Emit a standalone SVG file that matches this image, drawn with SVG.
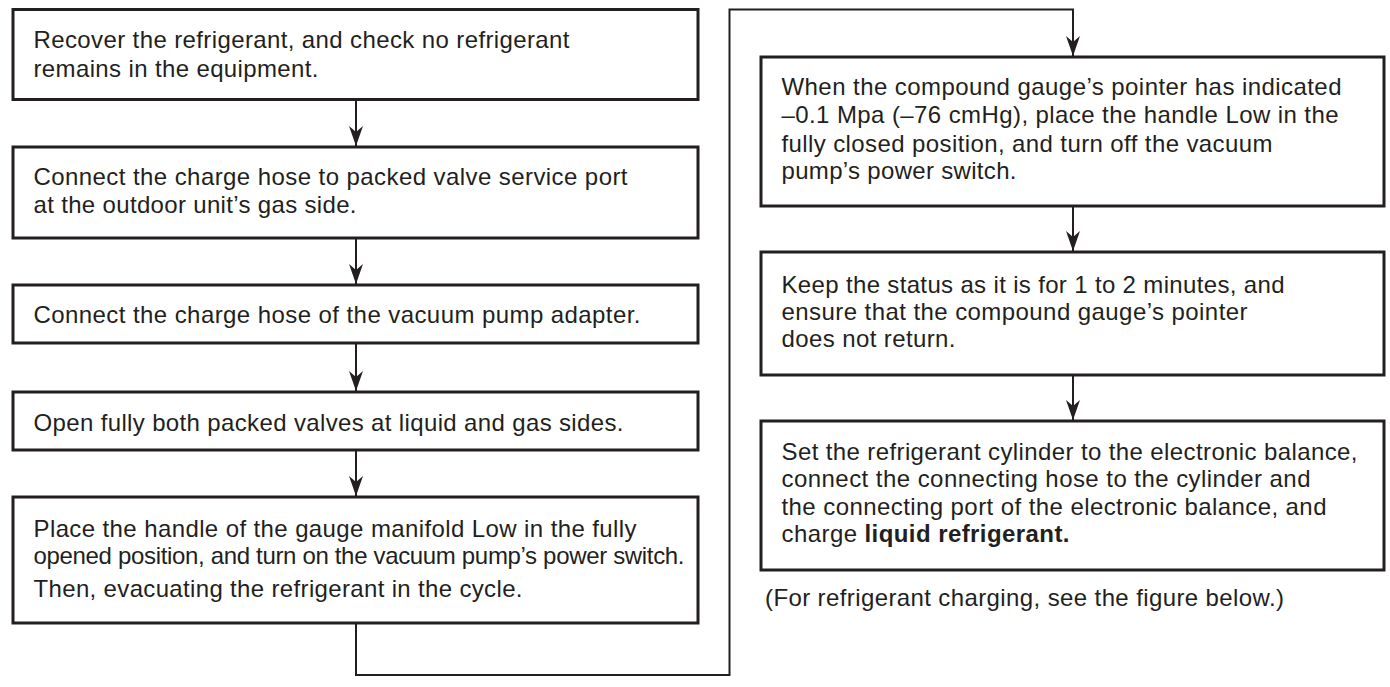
<svg xmlns="http://www.w3.org/2000/svg" width="1390" height="687" viewBox="0 0 1390 687">
<style>
.box{fill:#fff;stroke:#231f20;stroke-width:3}
.t{font-family:"Liberation Sans",Arial,sans-serif;font-size:24px;fill:#231f20}
.b{font-weight:bold}
.c{fill:none;stroke:#231f20;stroke-width:2}
</style>
<defs>
<marker id="ah" markerUnits="userSpaceOnUse" viewBox="-21 -8 22 16" refX="0" refY="0" markerWidth="22" markerHeight="16" orient="auto" overflow="visible">
<path d="M0,0 L-20,-7 L-14,0 L-20,7 Z" fill="#231f20"/>
</marker>
</defs>
<rect width="1390" height="687" fill="#fff"/>
<g id="connectors">
<line class="c" x1="356" y1="99" x2="356" y2="146" marker-end="url(#ah)"/>
<line class="c" x1="356" y1="238" x2="356" y2="284" marker-end="url(#ah)"/>
<line class="c" x1="356" y1="343" x2="356" y2="391" marker-end="url(#ah)"/>
<line class="c" x1="356" y1="450" x2="356" y2="496" marker-end="url(#ah)"/>
<path class="c" d="M356,623 V675 H729.5 V9.5 H1073 V56" marker-end="url(#ah)"/>
<line class="c" x1="1073" y1="206" x2="1073" y2="251" marker-end="url(#ah)"/>
<line class="c" x1="1073" y1="375" x2="1073" y2="420" marker-end="url(#ah)"/>
</g>
<g id="n1">
<rect class="box" x="13" y="9.5" width="685" height="90"/>
<text class="t" x="33.5" y="48.3" textLength="536" lengthAdjust="spacing">Recover the refrigerant, and check no refrigerant</text>
<text class="t" x="33.5" y="77" textLength="285" lengthAdjust="spacing">remains in the equipment.</text>
</g>
<g id="n2">
<rect class="box" x="13" y="147" width="685" height="91"/>
<text class="t" x="33.5" y="185" textLength="594" lengthAdjust="spacing">Connect the charge hose to packed valve service port</text>
<text class="t" x="33.5" y="213" textLength="323" lengthAdjust="spacing">at the outdoor unit’s gas side.</text>
</g>
<g id="n3">
<rect class="box" x="13" y="285" width="685" height="58"/>
<text class="t" x="33.5" y="323" textLength="607" lengthAdjust="spacing">Connect the charge hose of the vacuum pump adapter.</text>
</g>
<g id="n4">
<rect class="box" x="13" y="392" width="685" height="58"/>
<text class="t" x="33.5" y="430.7" textLength="590" lengthAdjust="spacing">Open fully both packed valves at liquid and gas sides.</text>
</g>
<g id="n5">
<rect class="box" x="13" y="497" width="685" height="126"/>
<text class="t" x="33.5" y="536.7" textLength="603" lengthAdjust="spacing">Place the handle of the gauge manifold Low in the fully</text>
<text class="t" x="33.5" y="564" textLength="651" lengthAdjust="spacing">opened position, and turn on the vacuum pump’s power switch.</text>
<text class="t" x="33.5" y="596.7" textLength="489" lengthAdjust="spacing">Then, evacuating the refrigerant in the cycle.</text>
</g>
<g id="n6">
<rect class="box" x="761" y="57" width="623" height="149"/>
<text class="t" x="781.5" y="95" textLength="560" lengthAdjust="spacing">When the compound gauge’s pointer has indicated</text>
<text class="t" x="781.5" y="123.3" textLength="557" lengthAdjust="spacing">–0.1 Mpa (–76 cmHg), place the handle Low in the</text>
<text class="t" x="781.5" y="151.7" textLength="491" lengthAdjust="spacing">fully closed position, and turn off the vacuum</text>
<text class="t" x="781.5" y="179.3" textLength="235" lengthAdjust="spacing">pump’s power switch.</text>
</g>
<g id="n7">
<rect class="box" x="761" y="252" width="623" height="123"/>
<text class="t" x="781.5" y="292.7" textLength="503" lengthAdjust="spacing">Keep the status as it is for 1 to 2 minutes, and</text>
<text class="t" x="781.5" y="320" textLength="466" lengthAdjust="spacing">ensure that the compound gauge’s pointer</text>
<text class="t" x="781.5" y="346.7" textLength="174" lengthAdjust="spacing">does not return.</text>
</g>
<g id="n8">
<rect class="box" x="761" y="421" width="623" height="149"/>
<text class="t" x="781.5" y="459.6" textLength="576" lengthAdjust="spacing">Set the refrigerant cylinder to the electronic balance,</text>
<text class="t" x="781.5" y="487" textLength="529" lengthAdjust="spacing">connect the connecting hose to the cylinder and</text>
<text class="t" x="781.5" y="515" textLength="545" lengthAdjust="spacing">the connecting port of the electronic balance, and</text>
<text class="t" x="781.5" y="542" textLength="288" lengthAdjust="spacing">charge <tspan class="b">liquid refrigerant.</tspan></text>
</g>
<g id="caption">
<text class="t" x="765" y="606" textLength="519" lengthAdjust="spacing">(For refrigerant charging, see the figure below.)</text>
</g>
</svg>
